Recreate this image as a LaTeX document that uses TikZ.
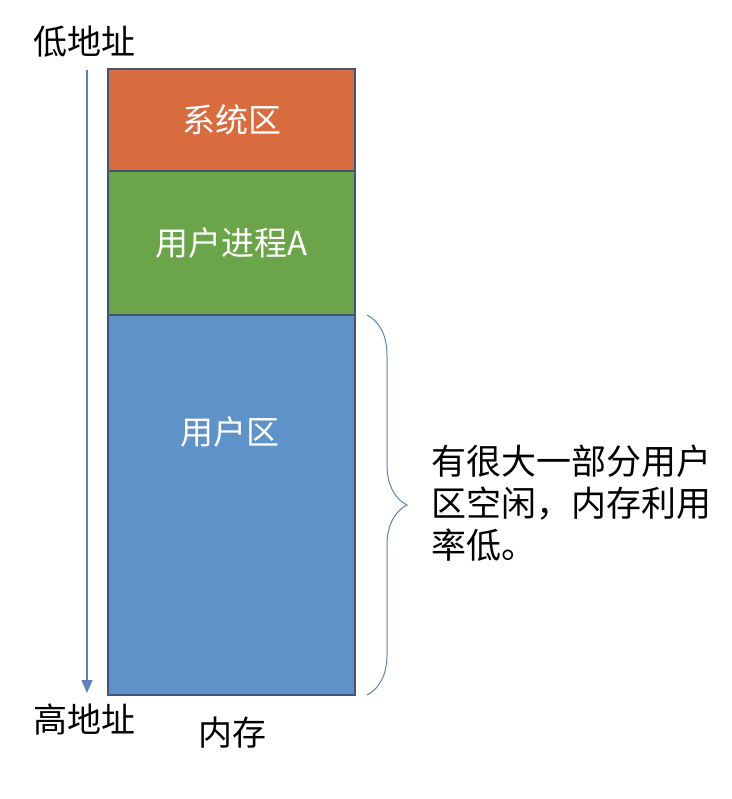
\documentclass[tikz,border=0pt]{standalone}
\usepackage{fontspec}
\setmainfont{Noto Sans CJK SC}
\usetikzlibrary{positioning,arrows.meta,decorations.pathreplacing}
\definecolor{sysorange}{RGB}{216,108,62}
\definecolor{procgreen}{RGB}{107,165,74}
\definecolor{userblue}{RGB}{93,147,200}
\definecolor{blockedge}{RGB}{66,86,116}
\definecolor{arrowblue}{RGB}{91,130,185}
\tikzset{
	block/.style={draw=blockedge,line width=1.2pt,minimum width=247pt,inner sep=0pt,outer sep=0pt,text=white,font=\fontsize{33}{40}\selectfont},
	lbl/.style={font=\fontsize{34}{40}\selectfont,inner sep=0pt}
}
\begin{document}
\begin{tikzpicture}[x=1pt,y=-1pt,>={Triangle[length=13pt,width=11pt]},node distance=0pt]
	\useasboundingbox (0,0) rectangle (731,799);
	\node[block,fill=sysorange,minimum height=102pt,anchor=north] (sys) at (231.5,69) {系统区};
	\node[block,fill=procgreen,minimum height=144pt,below=of sys] (procA) {用户进程A};
	\node[block,fill=userblue,minimum height=380pt,below=of procA] (user) {};
	\node[lbl,text=white,font=\fontsize{33}{40}\selectfont] (userlbl) at (230,432) {用户区};
	% address direction
	\coordinate (lowend) at (87,70); \coordinate (highend) at (87,693);
	\draw[->,arrowblue,line width=1.4pt] (lowend)--(highend);
	\node[lbl] (lowaddr) at (84,42) {低地址};
	\node[lbl] (highaddr) at (84,720) {高地址};
	\node[lbl] (mem) at (232,733) {内存};
	% free part of the user area
	\draw[arrowblue,line width=1pt,decorate,decoration={brace,amplitude=40pt}]
		([xshift=12pt]user.north east)--([xshift=12pt]user.south east);
	\node[lbl,font=\fontsize{35}{42}\selectfont,align=left,anchor=north west] (note) at (431,445) {有很大一部分用户\\区空闲，内存利用\\率低。};
\end{tikzpicture}
\end{document}
